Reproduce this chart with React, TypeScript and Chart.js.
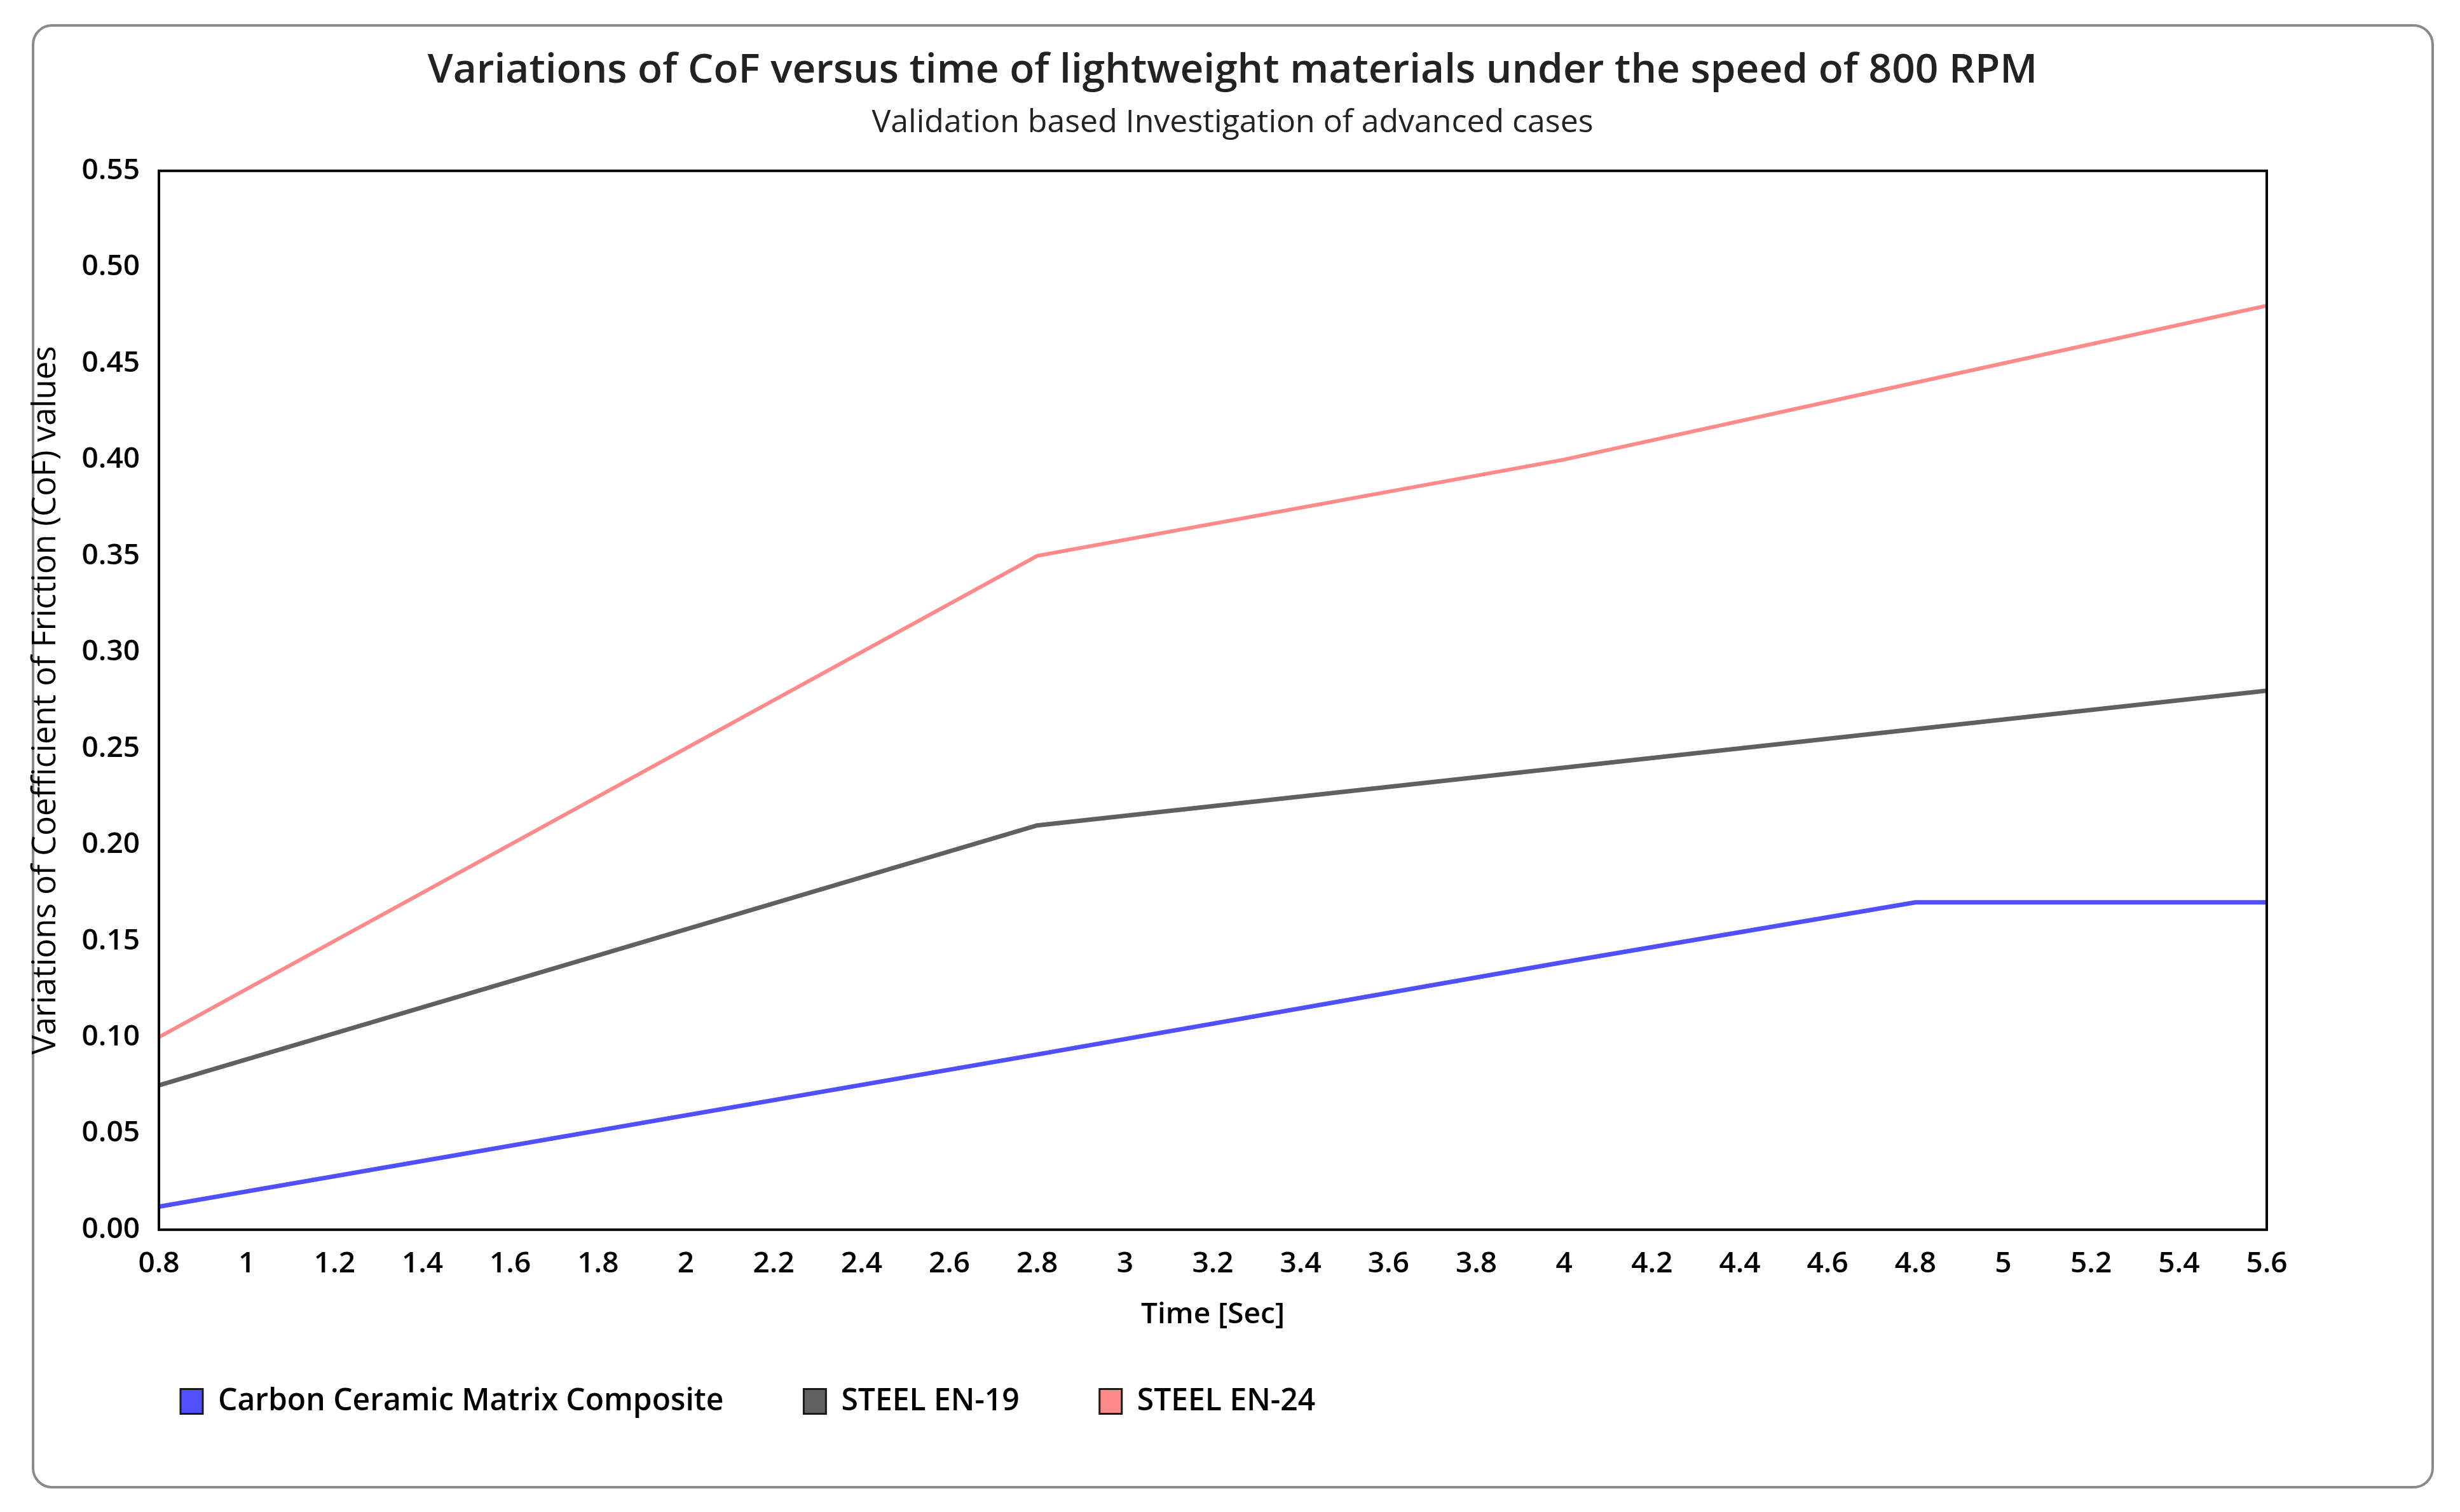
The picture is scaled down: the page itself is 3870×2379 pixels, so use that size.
import React, { useEffect, useRef } from 'react';
import { Chart, registerables } from 'chart.js';

Chart.register(...registerables);

// ---- data ----
const timeSec = [0.8, 2.8, 4, 4.8, 5.6];
const carbonCeramic = [0.012, 0.091, 0.139, 0.17, 0.17];
const steelEN19 = [0.075, 0.21, 0.24, 0.26, 0.28];
const steelEN24 = [0.1, 0.35, 0.4, 0.44, 0.48];
const seriesNames = ['Carbon Ceramic Matrix Composite', 'STEEL EN-19', 'STEEL EN-24'];
const seriesColors = ['#5050ff', '#606060', '#ff8a8a'];
const xRange = [0.8, 5.6, 0.2];
const yRange = [0, 0.55, 0.05];
const titleText = 'Variations of CoF versus time of lightweight materials under the speed of 800 RPM';
const subtitleText = 'Validation based Investigation of advanced cases';
const xTitleText = 'Time [Sec]';
const yTitleText = 'Variations of Coefficient of Friction (CoF) values';

const W = 3870;
const H = 2379;
const FONT = "'Open Sans', 'Noto Sans', sans-serif";

const LEGEND_PAD = 126;
const LEGEND_FONT = 48;
const LEGEND_START_X = 284;
const LEGEND_CENTER_Y = 2205;

const plotFrame = {
  id: 'plotFrame',
  afterDatasetsDraw(chart: any) {
    const { ctx, chartArea } = chart;
    const { left, top, right, bottom } = chartArea;
    ctx.save();
    ctx.strokeStyle = '#000';
    ctx.lineWidth = 4;
    ctx.strokeRect(left, top, right - left, bottom - top);
    ctx.restore();
  },
};

const boxPlace = {
  id: 'boxPlace',
  afterLayout(chart: any) {
    const lg = chart.legend;
    if (lg) {
      lg.left = LEGEND_START_X - LEGEND_PAD;
      lg.top = LEGEND_CENTER_Y - LEGEND_PAD - LEGEND_FONT / 2;
    }
    // centre title and subtitle on the whole frame, not on the plot
    (chart.boxes || []).forEach((b: any) => {
      if (b.position === 'top' && b !== lg && b.options && b.options.text !== undefined) {
        b.left = 8;
        b.right = W;
        b.width = W - 8;
      }
    });
  },
};

export default function App() {
  const ref = useRef<HTMLCanvasElement | null>(null);

  useEffect(() => {
    const canvas = ref.current;
    if (!canvas) return;
    const seriesValues = [carbonCeramic, steelEN19, steelEN24];
    const widths = [7, 7, 6];
    const chart = new Chart(canvas, {
      type: 'line',
      data: {
        datasets: seriesValues.map((vals, i) => ({
          label: seriesNames[i],
          data: timeSec.map((t, k) => ({ x: t, y: vals[k] })),
          borderColor: seriesColors[i],
          backgroundColor: seriesColors[i],
          borderWidth: widths[i],
          pointRadius: 0,
          tension: 0,
          fill: false,
        })),
      },
      options: {
        animation: false,
        responsive: false,
        devicePixelRatio: 1,
        layout: { padding: { left: 42, right: 304, top: 40, bottom: 99 } },
        plugins: {
          title: {
            display: true,
            text: titleText,
            color: '#222',
            font: { family: FONT, size: 64, weight: '600' },
            padding: { top: 33, bottom: 0 },
          },
          subtitle: {
            display: true,
            text: subtitleText,
            color: '#222',
            font: { family: FONT, size: 50, weight: 'normal' },
            padding: { top: 14.2, bottom: 44.8 },
          },
          legend: {
            display: true,
            position: 'bottom',
            align: 'start',
            labels: {
              color: '#000',
              font: { family: FONT, size: LEGEND_FONT, weight: '600' },
              boxWidth: 35,
              boxHeight: 39,
              padding: LEGEND_PAD,
              generateLabels: (c: any) =>
                (Chart as any).defaults.plugins.legend.labels.generateLabels(c).map((l: any, i: number) => ({
                  ...l,
                  fillStyle: seriesColors[i],
                  strokeStyle: '#1a1a1a',
                  lineWidth: 3,
                })),
            },
          },
          tooltip: { enabled: false },
        },
        scales: {
          x: {
            type: 'linear',
            min: xRange[0],
            max: xRange[1],
            grid: { display: false, drawTicks: false },
            border: { display: false },
            ticks: {
              stepSize: xRange[2],
              autoSkip: false,
              maxRotation: 0,
              padding: 26.4,
              color: '#000',
              font: { family: FONT, size: 46, weight: '600' },
              callback: (v: any) => String(parseFloat(Number(v).toFixed(1))),
            },
            title: {
              display: true,
              text: xTitleText,
              color: '#000',
              font: { family: FONT, size: 46, weight: '600' },
              padding: 0,
            },
            afterFit: (s: any) => {
              s.height = 161.2;
            },
          },
          y: {
            type: 'linear',
            min: yRange[0],
            max: yRange[1],
            grid: { display: false, drawTicks: false },
            border: { display: false },
            ticks: {
              stepSize: yRange[2],
              padding: 30,
              color: '#000',
              font: { family: FONT, size: 46, weight: '600' },
              callback: (v: any) => Number(v).toFixed(2),
            },
            title: {
              display: true,
              text: yTitleText,
              color: '#000',
              font: { family: FONT, size: 51 },
              padding: 0,
            },
            afterFit: (s: any) => {
              s.width = 208;
            },
          },
        },
      },
      plugins: [plotFrame, boxPlace],
    } as any);
    return () => chart.destroy();
  }, []);

  return (
    <div style={{ position: 'fixed', left: 0, top: 0, width: W, height: H, background: '#fff', overflow: 'hidden' }}>
      <div
        style={{
          position: 'absolute',
          left: 50,
          top: 38,
          width: 3779,
          height: 2304,
          boxSizing: 'border-box',
          border: '4px solid #8a8a8a',
          borderRadius: 32,
        }}
      />
      <canvas ref={ref} width={W} height={H} style={{ position: 'absolute', left: 0, top: 0, width: W, height: H }} />
    </div>
  );
}
